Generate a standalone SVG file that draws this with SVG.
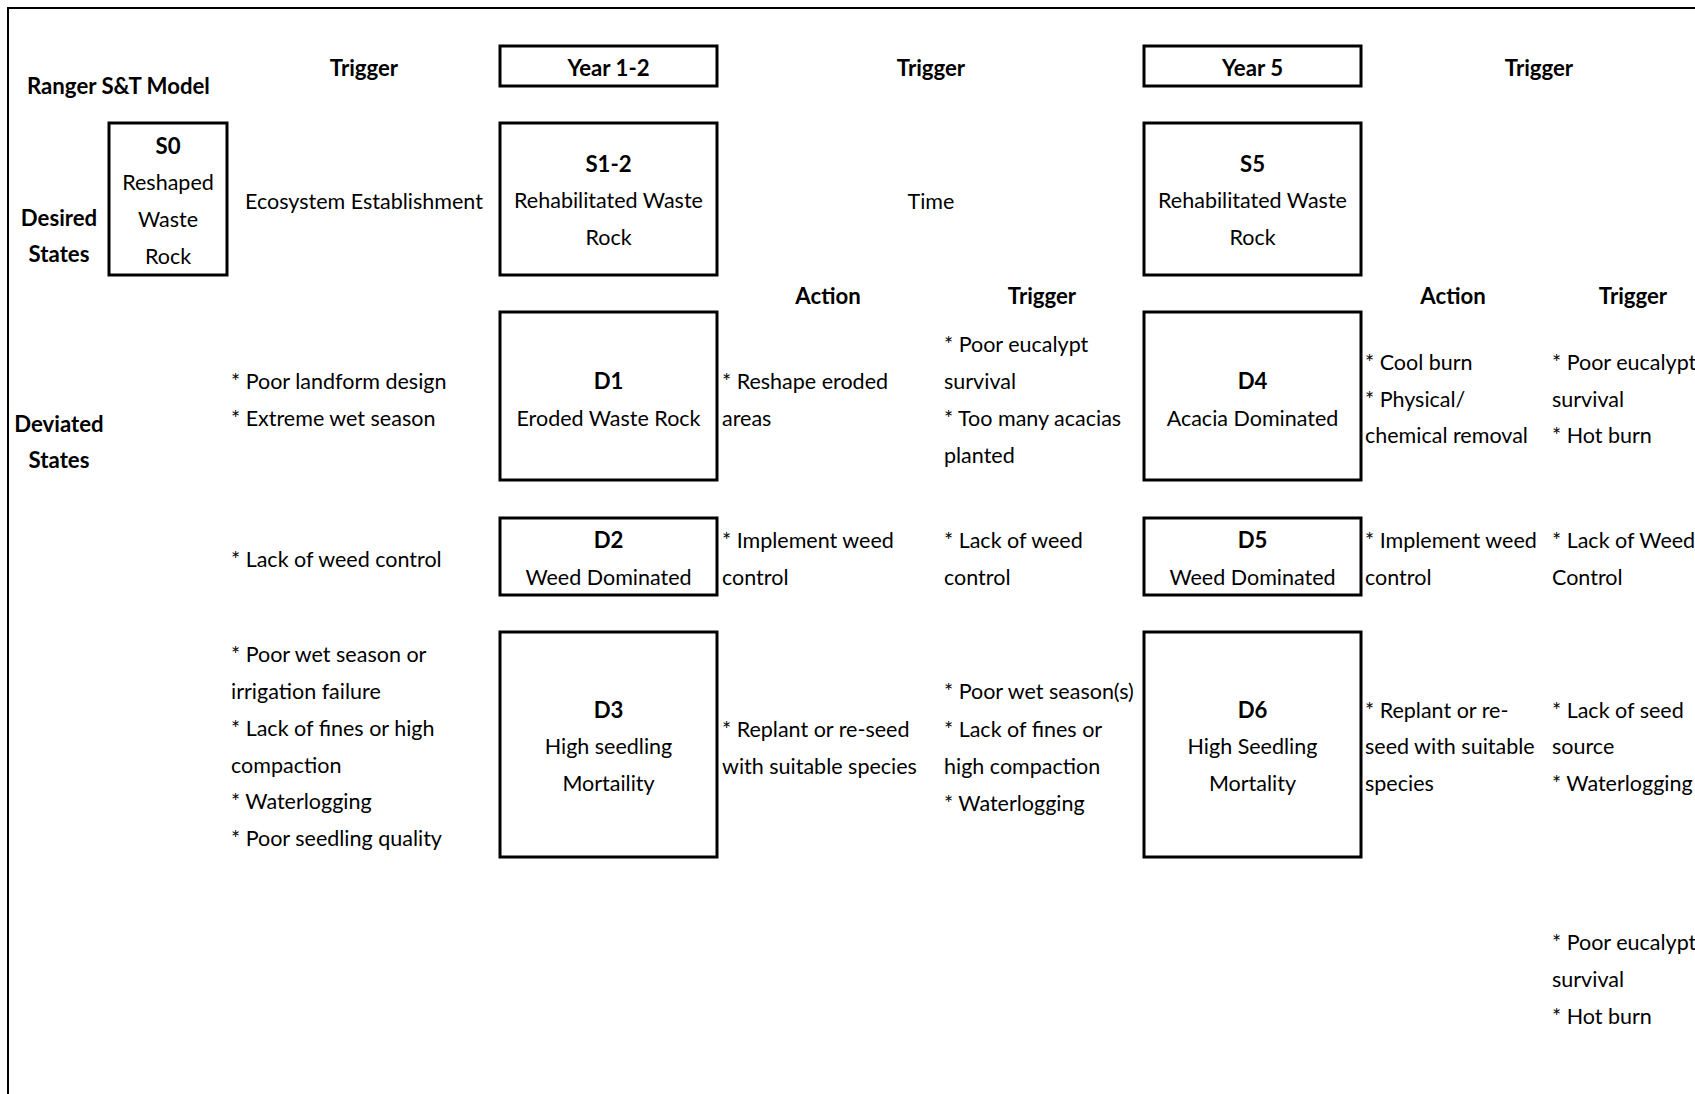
<svg xmlns="http://www.w3.org/2000/svg" width="1695" height="1094" viewBox="0 0 1695 1094">
<style>
text{font-family:Lato,'Liberation Sans',sans-serif;font-size:21.5px;fill:#000}
.b{font-weight:bold;font-size:22.2px}
.m{text-anchor:middle}
.box{fill:#fff;stroke:#000;stroke-width:3}
</style>
<rect width="1695" height="1094" fill="#fff"/>
<rect x="8" y="8" width="1700" height="1100" fill="none" stroke="#000" stroke-width="2"/>
<g id="connectors"/>
<g id="headers">
<text class="b" x="27" y="94">Ranger S&amp;T Model</text>
<text class="b m" x="364" y="76">Trigger</text>
<text class="b m" x="931" y="76">Trigger</text>
<text class="b m" x="1539" y="76">Trigger</text>
<text class="b m" x="59" y="226">Desired</text>
<text class="b m" x="59" y="262">States</text>
<text class="b m" x="59" y="432">Deviated</text>
<text class="b m" x="59" y="468">States</text>
<text class="b m" x="828" y="304">Action</text>
<text class="b m" x="1042" y="304">Trigger</text>
<text class="b m" x="1453" y="304">Action</text>
<text class="b m" x="1633" y="304">Trigger</text>
</g>
<g id="Year12"><rect class="box" x="500" y="46" width="217" height="40"/><text class="b m" x="608.5" y="76">Year 1-2</text></g>
<g id="Year5"><rect class="box" x="1144" y="46" width="217" height="40"/><text class="b m" x="1252.5" y="76">Year 5</text></g>
<g id="S0"><rect class="box" x="109" y="123" width="118" height="152"/>
<text class="b m" x="168" y="154">S0</text><text class="m" x="168" y="190">Reshaped</text><text class="m" x="168" y="227">Waste</text><text class="m" x="168" y="264">Rock</text></g>
<g id="S1-2"><rect class="box" x="500" y="123" width="217" height="152"/>
<text class="b m" x="608.5" y="172">S1-2</text><text class="m" x="608.5" y="208">Rehabilitated Waste</text><text class="m" x="608.5" y="245">Rock</text></g>
<g id="S5"><rect class="box" x="1144" y="123" width="217" height="152"/>
<text class="b m" x="1252.5" y="172">S5</text><text class="m" x="1252.5" y="208">Rehabilitated Waste</text><text class="m" x="1252.5" y="245">Rock</text></g>
<g id="D1"><rect class="box" x="500" y="312" width="217" height="168"/>
<text class="b m" x="608.5" y="389">D1</text><text class="m" x="608.5" y="426">Eroded Waste Rock</text></g>
<g id="D2"><rect class="box" x="500" y="518" width="217" height="77"/>
<text class="b m" x="608.5" y="548">D2</text><text class="m" x="608.5" y="585">Weed Dominated</text></g>
<g id="D3"><rect class="box" x="500" y="632" width="217" height="225"/>
<text class="b m" x="608.5" y="718">D3</text><text class="m" x="608.5" y="754">High seedling</text><text class="m" x="608.5" y="791">Mortaility</text></g>
<g id="D4"><rect class="box" x="1144" y="312" width="217" height="168"/>
<text class="b m" x="1252.5" y="389">D4</text><text class="m" x="1252.5" y="426">Acacia Dominated</text></g>
<g id="D5"><rect class="box" x="1144" y="518" width="217" height="77"/>
<text class="b m" x="1252.5" y="548">D5</text><text class="m" x="1252.5" y="585">Weed Dominated</text></g>
<g id="D6"><rect class="box" x="1144" y="632" width="217" height="225"/>
<text class="b m" x="1252.5" y="718">D6</text><text class="m" x="1252.5" y="754">High Seedling</text><text class="m" x="1252.5" y="791">Mortality</text></g>
<g id="labels">
<text class="m" x="364" y="209">Ecosystem Establishment</text>
<text class="m" x="931" y="209">Time</text>
<text x="231" y="389">* Poor landform design</text>
<text x="231" y="426">* Extreme wet season</text>
<text x="231" y="567">* Lack of weed control</text>
<text x="231" y="662">* Poor wet season or</text>
<text x="231" y="699">irrigation failure</text>
<text x="231" y="736">* Lack of fines or high</text>
<text x="231" y="773">compaction</text>
<text x="231" y="809">* Waterlogging</text>
<text x="231" y="846">* Poor seedling quality</text>
<text x="722" y="389">* Reshape eroded</text>
<text x="722" y="426">areas</text>
<text x="722" y="548">* Implement weed</text>
<text x="722" y="585">control</text>
<text x="722" y="737">* Replant or re-seed</text>
<text x="722" y="774">with suitable species</text>
<text x="944" y="352">* Poor eucalypt</text>
<text x="944" y="389">survival</text>
<text x="944" y="426">* Too many acacias</text>
<text x="944" y="463">planted</text>
<text x="944" y="548">* Lack of weed</text>
<text x="944" y="585">control</text>
<text x="944" y="699">* Poor wet season(s)</text>
<text x="944" y="737">* Lack of fines or</text>
<text x="944" y="774">high compaction</text>
<text x="944" y="811">* Waterlogging</text>
<text x="1365" y="370">* Cool burn</text>
<text x="1365" y="407">* Physical/</text>
<text x="1365" y="443">chemical removal</text>
<text x="1365" y="548">* Implement weed</text>
<text x="1365" y="585">control</text>
<text x="1365" y="718">* Replant or re-</text>
<text x="1365" y="754">seed with suitable</text>
<text x="1365" y="791">species</text>
<text x="1552" y="370">* Poor eucalypt</text>
<text x="1552" y="407">survival</text>
<text x="1552" y="443">* Hot burn</text>
<text x="1552" y="548">* Lack of Weed</text>
<text x="1552" y="585">Control</text>
<text x="1552" y="718">* Lack of seed</text>
<text x="1552" y="754">source</text>
<text x="1552" y="791">* Waterlogging</text>
<text x="1552" y="950">* Poor eucalypt</text>
<text x="1552" y="987">survival</text>
<text x="1552" y="1024">* Hot burn</text>
</g>
</svg>
